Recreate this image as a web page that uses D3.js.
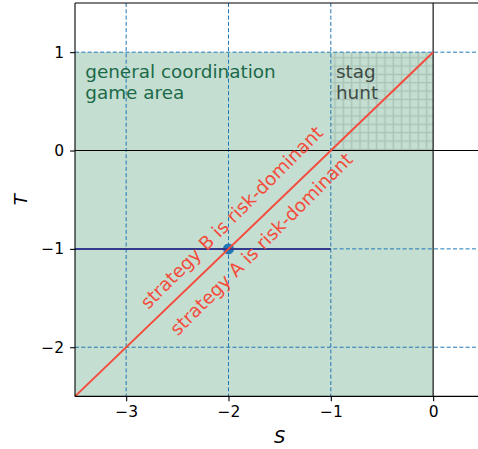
<!DOCTYPE html>
<html>
<head>
<meta charset="utf-8">
<script src="https://cdn.jsdelivr.net/npm/d3@7"></script>
<style>
  body { margin: 0; background: #fff; }
  text { font-family: "DejaVu Sans", sans-serif; }
</style>
</head>
<body>
<div id="vis"></div>
<script>
// chart data
const sTicks = [-3, -2, -1, 0]
const tTicks = [-2, -1, 0, 1]
const gridS = [-3, -2, -1]          // dashed vertical guides
const gridT = [1, -1, -2]           // dashed horizontal guides
const gameArea = { s: [-3.5, 0], t: [-2.5, 1] }
const stagHunt = { s: [-1, 0], t: [0, 1] }
const riskLine = [[-3.5, -2.5], [0, 1]]   // T = S + 1
const payoffLine = [[-3.5, -1], [-1, -1]]
const point = [[-2, -1]]
const labels = [
  { text: 'strategy B is risk-dominant', s: -1.97, t: -0.68 },
  { text: 'strategy A is risk-dominant', s: -1.68, t: -0.95 }
]

// set margin
const W = 478, H = 449
const margin = { top: 3, left: 75 }
const width = 409.3, height = 393.4

const red = '#f44c3c'

const svg = d3.select('#vis')
  .append('svg')
  .attr('width', W)
  .attr('height', H)

const g = svg.append('g')
  .attr('transform', `translate(${margin.left},${margin.top})`)

const x = d3.scaleLinear().domain([-3.5, 0.5]).range([0, width])
const y = d3.scaleLinear().domain([-2.5, 1.5]).range([height, 0])

// hatch pattern for stag hunt region
const defs = svg.append('defs')
const pat = defs.append('pattern')
  .attr('id', 'hatch')
  .attr('patternUnits', 'userSpaceOnUse')
  .attr('width', 8.33).attr('height', 8.33)
  .attr('x', margin.left + x(-1)).attr('y', margin.top + y(0))
pat.append('path')
  .attr('d', 'M4.16,0V8.33M0,4.16H8.33')
  .attr('stroke', 'rgba(60,95,75,0.2)')
  .attr('stroke-width', 1.5)

// game area
g.append('rect')
  .attr('x', x(gameArea.s[0]))
  .attr('y', y(gameArea.t[1]))
  .attr('width', x(gameArea.s[1]) - x(gameArea.s[0]))
  .attr('height', y(gameArea.t[0]) - y(gameArea.t[1]))
  .attr('fill', '#c5ded2')

g.append('rect')
  .attr('x', x(stagHunt.s[0]))
  .attr('y', y(stagHunt.t[1]))
  .attr('width', x(stagHunt.s[1]) - x(stagHunt.s[0]))
  .attr('height', y(stagHunt.t[0]) - y(stagHunt.t[1]))
  .attr('fill', 'url(#hatch)')

// dashed guides
g.selectAll('.vguide')
  .data(gridS)
  .join('line')
  .attr('class', 'vguide')
  .attr('x1', d => x(d)).attr('x2', d => x(d))
  .attr('y1', 0).attr('y2', height)
  .attr('stroke', '#1f77b4')
  .attr('stroke-width', 1)
  .attr('stroke-dasharray', '4,2.3')

g.selectAll('.hguide')
  .data(gridT)
  .join('line')
  .attr('class', 'hguide')
  .attr('y1', d => y(d)).attr('y2', d => y(d))
  .attr('x1', 0).attr('x2', width)
  .attr('stroke', '#1f77b4')
  .attr('stroke-width', 1)
  .attr('stroke-dasharray', '4,2.3')

// zero lines
g.append('line')
  .attr('x1', x(0)).attr('x2', x(0))
  .attr('y1', 0).attr('y2', height)
  .attr('stroke', '#000').attr('stroke-width', 1.1)
g.append('line')
  .attr('x1', 0).attr('x2', width)
  .attr('y1', y(0)).attr('y2', y(0))
  .attr('stroke', '#000').attr('stroke-width', 1.1)

// point
g.selectAll('.pt')
  .data(point)
  .join('circle')
  .attr('class', 'pt')
  .attr('cx', d => x(d[0]))
  .attr('cy', d => y(d[1]))
  .attr('r', 5.5)
  .attr('fill', '#1f77b4')

const line = d3.line().x(d => x(d[0])).y(d => y(d[1]))

g.append('path')
  .datum(payoffLine)
  .attr('d', line)
  .attr('fill', 'none')
  .attr('stroke', '#333a8e')
  .attr('stroke-width', 2)

g.append('path')
  .datum(riskLine)
  .attr('d', line)
  .attr('fill', 'none')
  .attr('stroke', red)
  .attr('stroke-width', 2)

// region labels
const gl = g.append('text')
  .attr('x', x(-3.4))
  .attr('y', y(0.9) + 16)
  .attr('fill', '#1b6a48')
  .style('font-size', '18.4px')
gl.append('tspan').attr('x', x(-3.4)).text('general coordination')
gl.append('tspan').attr('x', x(-3.4)).attr('dy', 21).text('game area')

const sl = g.append('text')
  .attr('x', x(-0.95))
  .attr('y', y(0.9) + 16)
  .attr('fill', '#3e4a44')
  .style('font-size', '18.4px')
sl.append('tspan').attr('x', x(-0.95)).text('stag')
sl.append('tspan').attr('x', x(-0.95)).attr('dy', 21).text('hunt')

// rotated labels
g.selectAll('.risk')
  .data(labels)
  .join('text')
  .attr('class', 'risk')
  .attr('transform', d => `translate(${x(d.s)},${y(d.t)}) rotate(-45)`)
  .attr('text-anchor', 'middle')
  .attr('dy', '0.35em')
  .attr('fill', red)
  .style('font-size', '18.4px')
  .text(d => d.text)

// spines
g.append('line').attr('x1', 0).attr('x2', 0).attr('y1', 0).attr('y2', height)
  .attr('stroke', '#000').attr('stroke-width', 1.1)
g.append('line').attr('x1', 0).attr('x2', width).attr('y1', height).attr('y2', height)
  .attr('stroke', '#000').attr('stroke-width', 1.1)
g.append('line').attr('x1', 0).attr('x2', width).attr('y1', 0).attr('y2', 0)
  .attr('stroke', '#000').attr('stroke-width', 1.1)
g.append('line').attr('x1', width).attr('x2', width).attr('y1', 0).attr('y2', height)
  .attr('stroke', '#000').attr('stroke-width', 1.1)

// axes
const fmt = d => d < 0 ? '\u2212' + Math.abs(d) : String(d)
const xAxis = g.append('g')
  .attr('transform', `translate(0,${height})`)
  .call(d3.axisBottom(x).tickValues(sTicks).tickFormat(fmt).tickSize(4.9).tickPadding(5))
const yAxis = g.append('g')
  .call(d3.axisLeft(y).tickValues(tTicks).tickFormat(fmt).tickSize(4.9).tickPadding(6))

for (const ax of [xAxis, yAxis]) {
  ax.attr('font-size', null).attr('font-family', null)
  ax.select('.domain').remove()
  ax.selectAll('line').attr('stroke', '#000').attr('stroke-width', 1.1)
  ax.selectAll('text')
    .attr('fill', '#000')
    .style('font-size', '15.5px')
}

// axis labels
g.append('text')
  .attr('x', width / 2)
  .attr('y', height + 47)
  .attr('text-anchor', 'middle')
  .style('font-size', '18px')
  .style('font-style', 'italic')
  .text('S')

g.append('text')
  .attr('transform', `translate(${-48},${height / 2}) rotate(-90)`)
  .attr('text-anchor', 'middle')
  .style('font-size', '18px')
  .style('font-style', 'italic')
  .text('T')
</script>
</body>
</html>
